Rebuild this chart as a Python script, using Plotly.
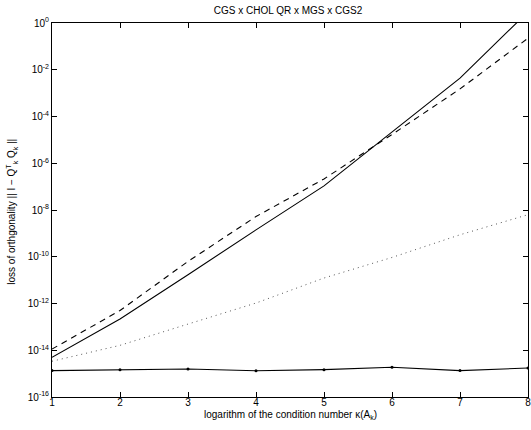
import plotly.graph_objects as go

x = [1, 2, 3, 4, 5, 6, 7, 8]
# log10 of loss of orthogonality
cgs_log = [-14.3, -12.66, -10.77, -8.85, -6.97, -4.65, -2.36, 0.48]
chol_log = [-13.95, -12.3, -10.2, -8.28, -6.67, -4.77, -2.82, -0.65]
mgs_log = [-14.47, -13.79, -12.88, -11.98, -10.91, -10.03, -9.06, -8.2]
cgs2_log = [-14.87, -14.83, -14.8, -14.88, -14.83, -14.73, -14.87, -14.76]

ytick_exps = [0, -2, -4, -6, -8, -10, -12, -14, -16]
ytick_text = ["10<sup>%s</sup>" % (str(e) if e == 0 else "-%d" % (-e)) for e in ytick_exps]

title_text = "CGS x CHOL QR x MGS x CGS2"
xlabel = "logarithm of the condition number \u03ba(A<sub>k</sub>)"
ylabel = "loss of orthgonality || I \u2212 Q<sup>T</sup><sub>k</sub> Q<sub>k</sub> ||"


def p10(vals):
    return [10 ** v for v in vals]


fig = go.Figure()
fig.add_trace(go.Scatter(x=x, y=p10(cgs_log), mode="lines", name="CGS",
                         line=dict(color="black", width=1.1)))
fig.add_trace(go.Scatter(x=x, y=p10(chol_log), mode="lines", name="CHOL QR",
                         line=dict(color="black", width=1.1, dash="6px,5px")))
fig.add_trace(go.Scatter(x=x, y=p10(mgs_log), mode="lines", name="MGS",
                         line=dict(color="#555555", width=1, dash="1px,4px")))
fig.add_trace(go.Scatter(x=x, y=p10(cgs2_log), mode="lines+markers", name="CGS2",
                         line=dict(color="black", width=1.1),
                         marker=dict(color="black", size=3)))

font = "Liberation Sans, Arial, sans-serif"
W, H = 531, 430
L, T = 52, 23
pw, ph = 476, 374.5
R = W - L - pw
B = H - T - ph
fig.update_layout(
    width=W, height=H,
    margin=dict(l=L, r=R, t=T, b=B, autoexpand=False),
    paper_bgcolor="white", plot_bgcolor="white",
    showlegend=False,
    font=dict(family=font, size=10, color="black"),
    title=dict(text=title_text, x=288 / W, xanchor="center",
               y=1 - 10 / H, yanchor="middle", font=dict(size=10)),
    annotations=[
        dict(text=xlabel, xref="paper", yref="paper",
             x=(290 - L) / pw, y=(397.5 - 416) / ph,
             xanchor="center", yanchor="middle", showarrow=False,
             font=dict(size=10)),
        dict(text=ylabel, xref="paper", yref="paper", textangle=-90,
             x=(12 - L) / pw, y=(397.5 - 212) / ph,
             xanchor="center", yanchor="middle", showarrow=False,
             font=dict(size=10)),
    ],
)
fig.update_xaxes(
    range=[1, 8], tickvals=x, ticktext=[str(v) for v in x],
    showline=True, linecolor="black", linewidth=1, mirror="ticks",
    ticks="inside", ticklen=5, tickcolor="black", showgrid=False, zeroline=False,
    tickfont=dict(size=10), automargin=False, ticklabelstandoff=-4,
    ticklabeloverflow="allow",
)
fig.update_yaxes(
    type="log", range=[-16, 0],
    tickvals=[10 ** e for e in ytick_exps], ticktext=ytick_text,
    showline=True, linecolor="black", linewidth=1, mirror="ticks",
    ticks="inside", ticklen=5, tickcolor="black", showgrid=False, zeroline=False,
    tickfont=dict(size=10), automargin=False, ticklabeloverflow="allow",
)

fig.write_html("out.html", config={"displayModeBar": False},
               post_script="document.body.style.margin='0px';document.body.style.overflow='hidden';")
